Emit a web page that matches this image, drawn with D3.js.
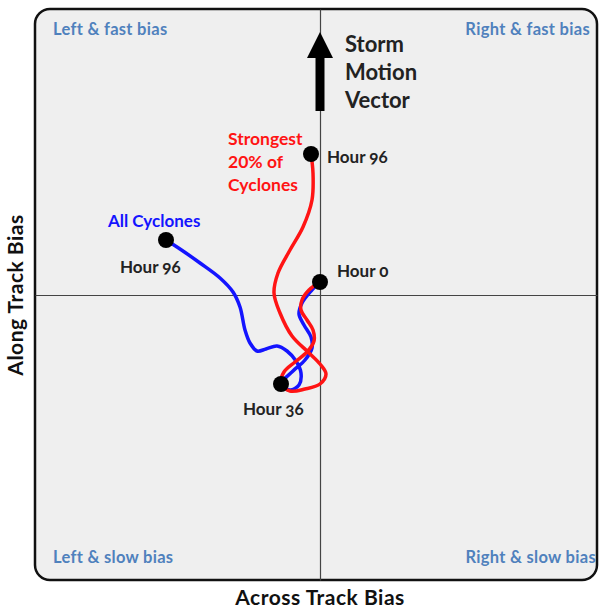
<!DOCTYPE html>
<meta charset="utf-8">
<style>
body { margin: 0; background: #fff; }
text { font-family: Lato, "Open Sans", sans-serif; font-weight: bold; }
.quad { fill: #4f81bd; font-size: 16.5px; letter-spacing: 0.3px; }
.hour { fill: #222; font-size: 17px; }
.title { fill: #111; font-size: 21px; letter-spacing: 0.5px; }
.axis .domain { stroke: #444; stroke-width: 1.2px; }
</style>
<svg width="599" height="608"></svg>
<script src="https://d3js.org/d3.v7.min.js"></script>
<script>

// bias track, hour 0 -> hour 96 (across = x, along = y)
var allAcross = [0, -9, -18, -21, -16, -9, -8, -15, -27, -39, -30, -21, -19, -24, -33, -43, -54, -63, -70, -75, -80, -87, -100, -120, -140, -154];
var allAlong  = [13, 4, -8, -19, -30, -42, -53, -65, -76, -89, -95, -90, -78, -66, -56, -51, -54, -56, -48, -35, -12, 3, 17, 32, 46, 55];

var strongAcross = [0, -11, -18, -19, -13, -7, -6, -13, -25, -36, -39, -30, -15, 0, 6, 0, -12, -28, -40, -46, -42, -30, -17, -8, -7, -9];
var strongAlong  = [13, 5, -5, -15, -25, -35, -46, -57, -67, -77, -89, -96, -94, -89, -79, -69, -57, -41, -18, 2, 22, 45, 68, 95, 122, 141];

// marked hours
var dotNames = ["Hour 0", "Hour 36", "Hour 96", "Hour 96"];
var dotAcross = [0, -39, -154, -9];
var dotAlong = [13, -89, 55, 141];

var quadLabels = ["Left & fast bias", "Right & fast bias", "Left & slow bias", "Right & slow bias"];

var svg = d3.select("svg");

var x = d3.scaleLinear().domain([-285, 277]).range([35, 597]);
var y = d3.scaleLinear().domain([-285, 286]).range([580, 9]);

// panel
svg.append("rect")
  .attr("x", x(-285)).attr("y", y(286))
  .attr("width", x(277) - x(-285)).attr("height", y(-285) - y(286))
  .attr("rx", 15).attr("ry", 15)
  .attr("fill", "#efefef")
  .attr("stroke", "#111").attr("stroke-width", 2.5);

// cross hair axes through zero
svg.append("g").attr("class", "axis")
  .attr("transform", "translate(0," + y(0) + ")")
  .call(d3.axisBottom(x).tickValues([]).tickSizeOuter(0));
svg.append("g").attr("class", "axis")
  .attr("transform", "translate(" + x(0) + ",0)")
  .call(d3.axisLeft(y).tickValues([]).tickSizeOuter(0));

// quadrant labels
svg.append("text").attr("class", "quad").attr("x", 53).attr("y", 35).text(quadLabels[0]);
svg.append("text").attr("class", "quad").attr("x", 590).attr("y", 35).attr("text-anchor", "end").text(quadLabels[1]);
svg.append("text").attr("class", "quad").attr("x", 53).attr("y", 563).text(quadLabels[2]);
svg.append("text").attr("class", "quad").attr("x", 596).attr("y", 563).attr("text-anchor", "end").text(quadLabels[3]);

// axis titles
svg.append("text").attr("class", "title")
  .attr("x", x(0)).attr("y", 605).attr("text-anchor", "middle")
  .text("Across Track Bias");
svg.append("text").attr("class", "title")
  .attr("transform", "translate(23," + y(0) + ") rotate(-90)")
  .attr("text-anchor", "middle")
  .text("Along Track Bias");

// storm motion arrow
svg.append("line")
  .attr("x1", x(0)).attr("x2", x(0))
  .attr("y1", 111).attr("y2", 54)
  .attr("stroke", "#000").attr("stroke-width", 9);
svg.append("path")
  .attr("d", "M" + x(0) + ",32 L" + (x(0) + 13) + ",58 L" + (x(0) - 13) + ",58 Z")
  .attr("fill", "#000");
svg.selectAll(".smv").data(["Storm", "Motion", "Vector"]).enter()
  .append("text")
  .attr("x", 345).attr("y", function(d, i) { return 52 + i * 28; })
  .style("font-size", "22px").attr("fill", "#222")
  .text(function(d) { return d; });

var line = d3.line()
  .x(function(d) { return x(d[0]); })
  .y(function(d) { return y(d[1]); })
  .curve(d3.curveCatmullRom.alpha(0.5));

svg.append("path")
  .datum(d3.zip(allAcross, allAlong))
  .attr("d", line)
  .attr("fill", "none").attr("stroke", "#1414ff").attr("stroke-width", 3.5)
  .attr("stroke-linecap", "round");

svg.append("path")
  .datum(d3.zip(strongAcross, strongAlong))
  .attr("d", line)
  .attr("fill", "none").attr("stroke", "#ff1414").attr("stroke-width", 3.5)
  .attr("stroke-linecap", "round");

svg.selectAll(".dot").data(d3.range(dotNames.length)).enter()
  .append("circle")
  .attr("cx", function(i) { return x(dotAcross[i]); })
  .attr("cy", function(i) { return y(dotAlong[i]); })
  .attr("r", 8)
  .attr("fill", "#000");

// hour labels, offset from their dots
var labOff = [[17, -5], [-38, 31], [-46, 33], [16, 9]];
svg.selectAll(".hour").data(d3.range(dotNames.length)).enter()
  .append("text").attr("class", "hour")
  .attr("x", function(i) { return x(dotAcross[i]) + labOff[i][0]; })
  .attr("y", function(i) { return y(dotAlong[i]) + labOff[i][1]; })
  .style("font-variant-numeric", "oldstyle-nums")
  .text(function(i) { return dotNames[i]; });

// series labels
svg.append("text")
  .attr("x", 108).attr("y", 227)
  .attr("fill", "#1414ff").style("font-size", "17px")
  .text("All Cyclones");
svg.selectAll(".strong").data(["Strongest", "20% of", "Cyclones"]).enter()
  .append("text")
  .attr("x", 228).attr("y", function(d, i) { return 145 + i * 23; })
  .attr("fill", "#ff1414").style("font-size", "17.5px")
  .text(function(d) { return d; });

</script>
